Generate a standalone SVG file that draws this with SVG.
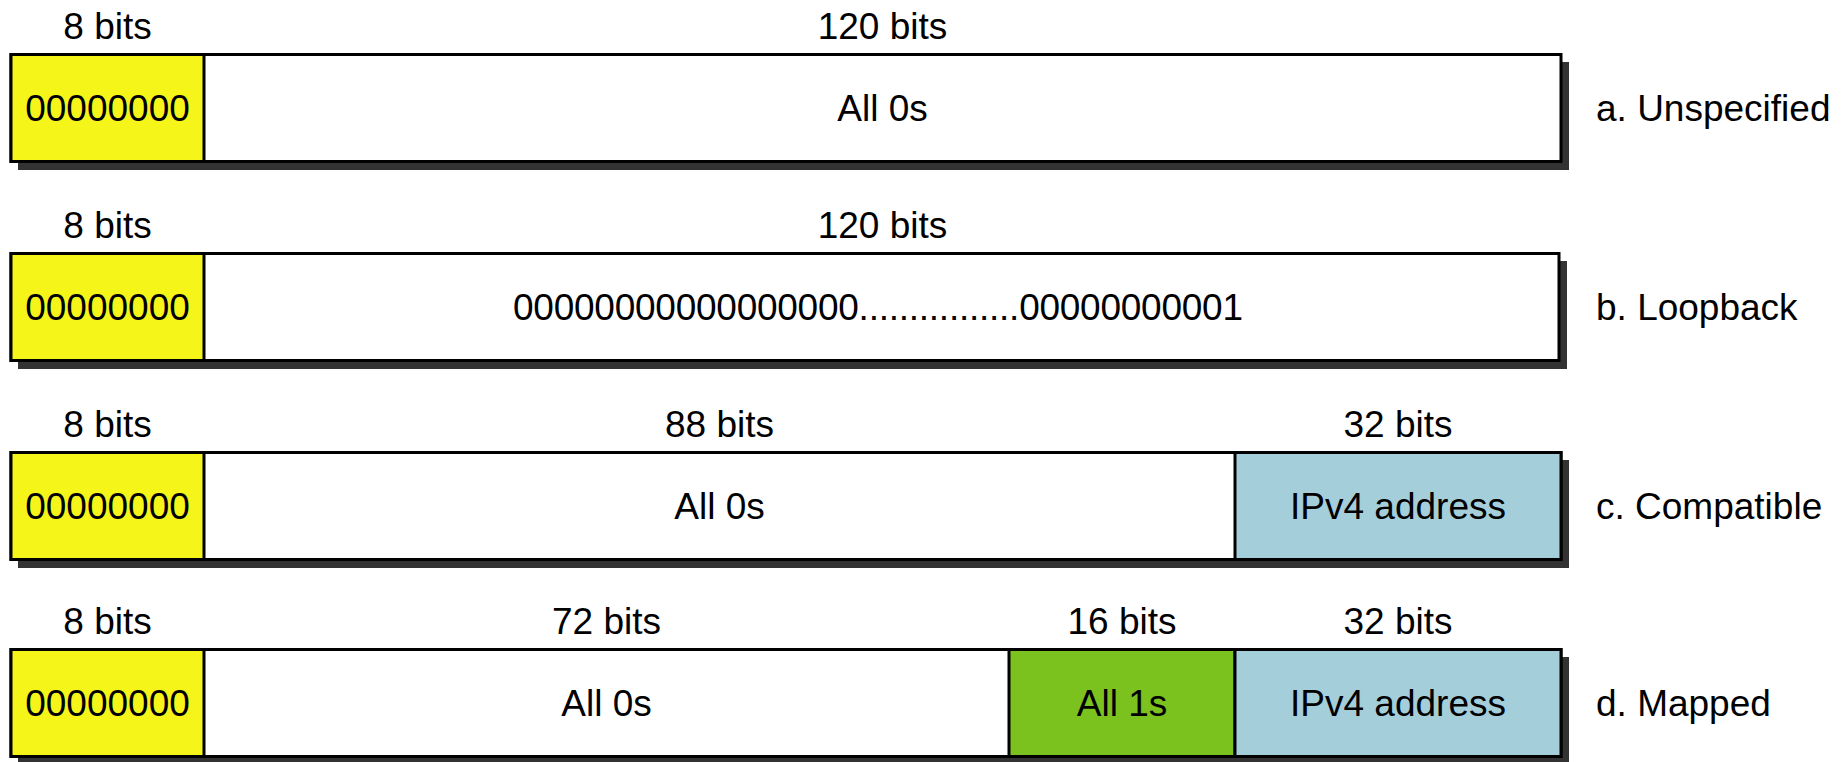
<svg xmlns="http://www.w3.org/2000/svg" width="1846" height="762" viewBox="0 0 1846 762">
<style>
text{font-family:"Liberation Sans",Arial,sans-serif;font-size:37px;fill:#000;}
.c{text-anchor:middle;}
.shadow{fill:#333333;}
.box{fill:#ffffff;stroke:#000;stroke-width:3;}
.seg{stroke:#000;stroke-width:3;}
.y{fill:#F6F51A;}
.g{fill:#7CC21F;}
.b{fill:#A5CEDB;}
.div{stroke:#000;stroke-width:3;}
</style>
<rect width="1846" height="762" fill="#ffffff"/>

<g id="row-a">
  <rect class="shadow" x="18" y="62" width="1551" height="108"/>
  <rect class="box" x="11" y="54.5" width="1550" height="107"/>
  <rect class="seg y" x="11" y="54.5" width="193" height="107"/>
  <text class="c" x="107.5" y="39">8 bits</text>
  <text class="c" x="882.5" y="39">120 bits</text>
  <text class="c" x="107.5" y="121">00000000</text>
  <text class="c" x="882.5" y="121">All 0s</text>
  <text x="1596" y="121">a. Unspecified</text>
</g>

<g id="row-b">
  <rect class="shadow" x="18" y="261" width="1549" height="108"/>
  <rect class="box" x="11" y="253.5" width="1548" height="107"/>
  <rect class="seg y" x="11" y="253.5" width="193" height="107"/>
  <text class="c" x="107.5" y="238">8 bits</text>
  <text class="c" x="882.5" y="238">120 bits</text>
  <text class="c" x="107.5" y="320">00000000</text>
  <text class="c" x="878" y="320" textLength="730" lengthAdjust="spacing">00000000000000000................00000000001</text>
  <text x="1596" y="320">b. Loopback</text>
</g>

<g id="row-c">
  <rect class="shadow" x="18" y="460" width="1551" height="108"/>
  <rect class="box" x="11" y="452.5" width="1550" height="107"/>
  <rect class="seg y" x="11" y="452.5" width="193" height="107"/>
  <rect class="seg b" x="1235" y="452.5" width="326" height="107"/>
  <text class="c" x="107.5" y="437">8 bits</text>
  <text class="c" x="719.5" y="437">88 bits</text>
  <text class="c" x="1398" y="437">32 bits</text>
  <text class="c" x="107.5" y="519">00000000</text>
  <text class="c" x="719.5" y="519">All 0s</text>
  <text class="c" x="1398" y="519">IPv4 address</text>
  <text x="1596" y="519">c. Compatible</text>
</g>

<g id="row-d">
  <rect class="shadow" x="18" y="657" width="1551" height="108"/>
  <rect class="box" x="11" y="649.5" width="1550" height="107"/>
  <rect class="seg y" x="11" y="649.5" width="193" height="107"/>
  <rect class="seg g" x="1009" y="649.5" width="226" height="107"/>
  <rect class="seg b" x="1235" y="649.5" width="326" height="107"/>
  <text class="c" x="107.5" y="634">8 bits</text>
  <text class="c" x="606.5" y="634">72 bits</text>
  <text class="c" x="1122" y="634">16 bits</text>
  <text class="c" x="1398" y="634">32 bits</text>
  <text class="c" x="107.5" y="716">00000000</text>
  <text class="c" x="606.5" y="716">All 0s</text>
  <text class="c" x="1122" y="716">All 1s</text>
  <text class="c" x="1398" y="716">IPv4 address</text>
  <text x="1596" y="716">d. Mapped</text>
</g>

<g id="connectors"></g>
</svg>
